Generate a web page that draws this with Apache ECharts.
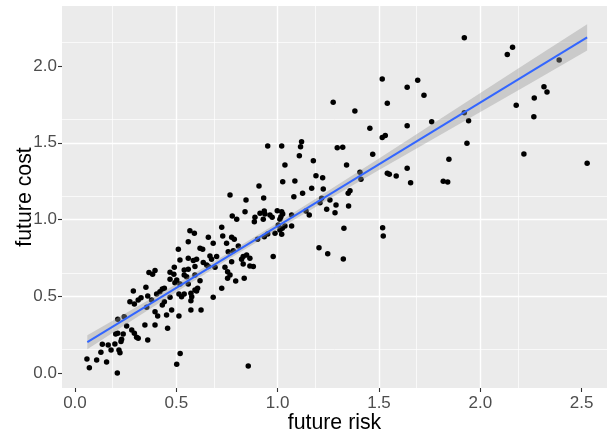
<!DOCTYPE html>
<html>
<head>
<meta charset="utf-8">
<script src="https://cdn.jsdelivr.net/npm/echarts@6/dist/echarts.min.js"></script>
<style>
html,body{margin:0;padding:0;background:#fff;}
#chart{width:607px;height:434px;}
</style>
</head>
<body>
<div id="chart"></div>
<script>
// ---- data ----
const riskX = [
0.271,0.293,0.354,0.431,0.441,0.395,0.408,0.452,0.477,0.513,
0.211,0.243,0.255,0.280,0.293,0.304,0.312,0.345,0.395,0.457,
0.201,0.211,0.238,0.230,0.227,0.359,0.135,0.164,0.178,0.197,
0.217,0.222,0.128,0.059,0.107,0.071,0.156,0.519,0.502,0.209,
0.510,0.518,0.365,0.395,0.383,0.490,0.469,0.488,0.469,0.493,
0.539,0.539,0.350,0.288,0.431,0.441,0.419,0.403,0.359,0.312,
0.326,0.469,0.513,0.526,0.378,0.539,0.572,0.576,0.600,0.572,
0.682,0.572,0.622,0.855,0.776,0.798,0.839,0.885,0.888,0.913,
0.937,0.929,0.962,0.973,1.016,1.003,1.023,0.724,0.567,0.589,
0.658,0.559,0.682,0.729,0.773,0.786,0.748,0.806,0.901,0.934,
0.951,0.987,1.011,0.617,0.630,0.666,0.699,0.674,0.600,0.584,
0.559,0.756,0.781,0.830,0.847,0.822,0.863,0.978,0.633,0.650,
0.691,0.658,0.592,0.559,0.773,0.740,0.753,0.765,0.830,0.863,
0.880,0.551,0.592,0.617,0.753,0.793,0.835,0.502,0.518,0.559,
0.592,0.605,0.724,0.951,1.020,1.036,1.025,0.908,0.765,0.844,
0.931,0.934,0.998,1.020,1.118,1.113,1.294,1.321,1.107,1.176,
1.469,1.340,1.085,1.189,1.222,1.168,1.225,1.123,1.080,1.406,
1.411,1.541,1.551,1.357,1.348,1.217,1.258,1.209,1.288,1.350,
1.242,1.283,1.140,1.156,1.069,1.025,1.011,1.036,1.069,1.020,
1.327,1.518,1.521,1.204,1.247,1.324,1.516,1.639,1.691,1.722,
1.541,1.455,1.639,1.760,1.516,1.531,1.921,1.942,1.934,1.845,
1.639,1.585,1.656,1.817,1.839,2.159,2.133,2.389,2.314,2.329,
2.266,2.177,2.264,2.215,2.527,1.921,1.274,1.381
];
const costY = [
0.466,0.451,0.429,0.444,0.466,0.401,0.373,0.379,0.412,0.373,
0.351,0.368,0.308,0.282,0.260,0.234,0.228,0.314,0.314,0.293,
0.256,0.260,0.256,0.221,0.206,0.217,0.189,0.184,0.152,0.191,
0.152,0.134,0.137,0.093,0.087,0.036,0.074,0.128,0.059,0.002,
0.807,0.737,0.655,0.668,0.644,0.690,0.657,0.644,0.612,0.589,
0.672,0.640,0.560,0.535,0.548,0.553,0.531,0.516,0.503,0.477,
0.492,0.494,0.516,0.498,0.477,0.516,0.520,0.498,0.535,0.472,
0.494,0.412,0.412,0.047,1.023,1.002,1.051,0.986,1.015,1.041,
1.036,1.002,1.030,1.015,1.019,0.965,0.943,0.950,0.928,0.911,
0.885,0.856,0.846,0.893,0.885,0.872,0.846,0.828,0.872,0.889,
0.906,0.911,0.932,0.813,0.807,0.763,0.759,0.742,0.742,0.733,
0.748,0.791,0.798,0.759,0.770,0.742,0.748,0.759,0.720,0.705,
0.690,0.694,0.694,0.677,0.726,0.690,0.661,0.640,0.711,0.698,
0.694,0.628,0.640,0.602,0.618,0.601,0.618,0.607,0.581,0.581,
0.542,0.553,0.553,1.479,1.479,1.355,1.247,1.219,1.160,1.128,
1.141,1.056,1.058,1.051,1.507,1.474,1.468,1.470,1.416,1.383,
1.425,1.355,1.251,1.286,1.273,1.204,1.199,1.171,1.149,1.308,
1.262,1.301,1.295,1.188,1.171,1.139,1.128,1.110,1.095,1.088,
1.067,1.045,1.056,1.030,1.030,1.036,1.002,0.958,0.958,0.904,
0.943,0.947,0.893,0.817,0.778,0.744,1.915,1.861,1.906,1.809,
1.757,1.594,1.611,1.637,1.535,1.548,1.696,1.643,1.496,1.392,
1.334,1.284,1.240,1.249,1.245,2.121,2.075,2.038,1.865,1.830,
1.791,1.744,1.670,1.427,1.366,2.184,1.763,1.707
];
// fitted line (lm) and its confidence band
const fitX = [0.061, 2.527];
const fitY = [0.202, 2.186];
const bandX    = [0.061, 0.25, 0.5, 0.75, 1.0, 1.25, 1.5, 1.75, 2.0, 2.25, 2.527];
const bandLow  = [0.156, 0.318, 0.529, 0.735, 0.935, 1.131, 1.322, 1.511, 1.700, 1.889, 2.101];
const bandHigh = [0.248, 0.390, 0.581, 0.777, 0.979, 1.187, 1.398, 1.611, 1.824, 2.037, 2.271];
// axis ticks / limits
const xTicks = [0, 0.5, 1, 1.5, 2, 2.5];
const yTicks = [0, 0.5, 1, 1.5, 2];
const xLimits = [-0.064, 2.625];
const yLimits = [-0.096, 2.39];

const FONT = '"Liberation Sans", Arial, Helvetica, sans-serif';
const points = riskX.map((x, i) => [x, costY[i]]);
const fitData = fitX.map((x, i) => [x, fitY[i]]);
const bandData = bandX.map((x, i) => [x, bandLow[i], bandHigh[i]]);

const chart = echarts.init(document.getElementById('chart'), null, {renderer: 'canvas'});

function axisCommon(ticks, name, nameGap) {
  return {
    type: 'value',
    interval: 0.5,
    axisLine: {show: false, onZero: false},
    axisTick: {show: true, length: 4, customValues: ticks, lineStyle: {color: '#333333', width: 1.1}},
    axisLabel: {customValues: ticks, formatter: v => Number(v).toFixed(1), fontSize: 17, color: '#4d4d4d', fontFamily: FONT},
    splitLine: {show: true, showMinLine: false, showMaxLine: false, lineStyle: {color: '#ffffff', width: 1.4}},
    minorTick: {show: false, splitNumber: 2},
    minorSplitLine: {show: true, lineStyle: {color: '#ffffff', width: 0.7}},
    name: name,
    nameLocation: 'middle',
    nameGap: nameGap,
    nameMoveOverlap: false,
    nameTextStyle: {fontSize: 21.3, color: '#000000', fontFamily: FONT}
  };
}

const xAxis = axisCommon(xTicks, 'future risk', 25);
xAxis.min = xLimits[0]; xAxis.max = xLimits[1];
xAxis.axisLabel.margin = 7;
const yAxis = axisCommon(yTicks, 'future cost', 26);
yAxis.min = yLimits[0]; yAxis.max = yLimits[1];
yAxis.axisLabel.margin = 5;

chart.setOption({
  animation: false,
  backgroundColor: '#ffffff',
  grid: {left: 62, right: 0, top: 6, bottom: 46, containLabel: false, outerBoundsMode: 'none',
         show: true, backgroundColor: '#ebebeb', borderWidth: 0},
  xAxis: xAxis,
  yAxis: yAxis,
  series: [
    {
      type: 'scatter', data: points, symbol: 'circle', symbolSize: 5.5,
      itemStyle: {color: '#000000', opacity: 1}, z: 2, silent: true
    },
    {
      type: 'custom', data: bandData, z: 3, silent: true,
      encode: {x: 0, y: [1, 2]},
      renderItem: function (params, api) {
        if (params.dataIndex !== 0) return null;
        const pts = [];
        for (let i = 0; i < bandX.length; i++) pts.push(api.coord([bandX[i], bandHigh[i]]));
        for (let i = bandX.length - 1; i >= 0; i--) pts.push(api.coord([bandX[i], bandLow[i]]));
        return {type: 'polygon', shape: {points: pts}, style: {fill: 'rgba(153,153,153,0.4)'}};
      }
    },
    {
      type: 'line', data: fitData, symbol: 'none', z: 4, silent: true,
      lineStyle: {color: '#3366FF', width: 2}
    }
  ]
});
</script>
</body>
</html>
